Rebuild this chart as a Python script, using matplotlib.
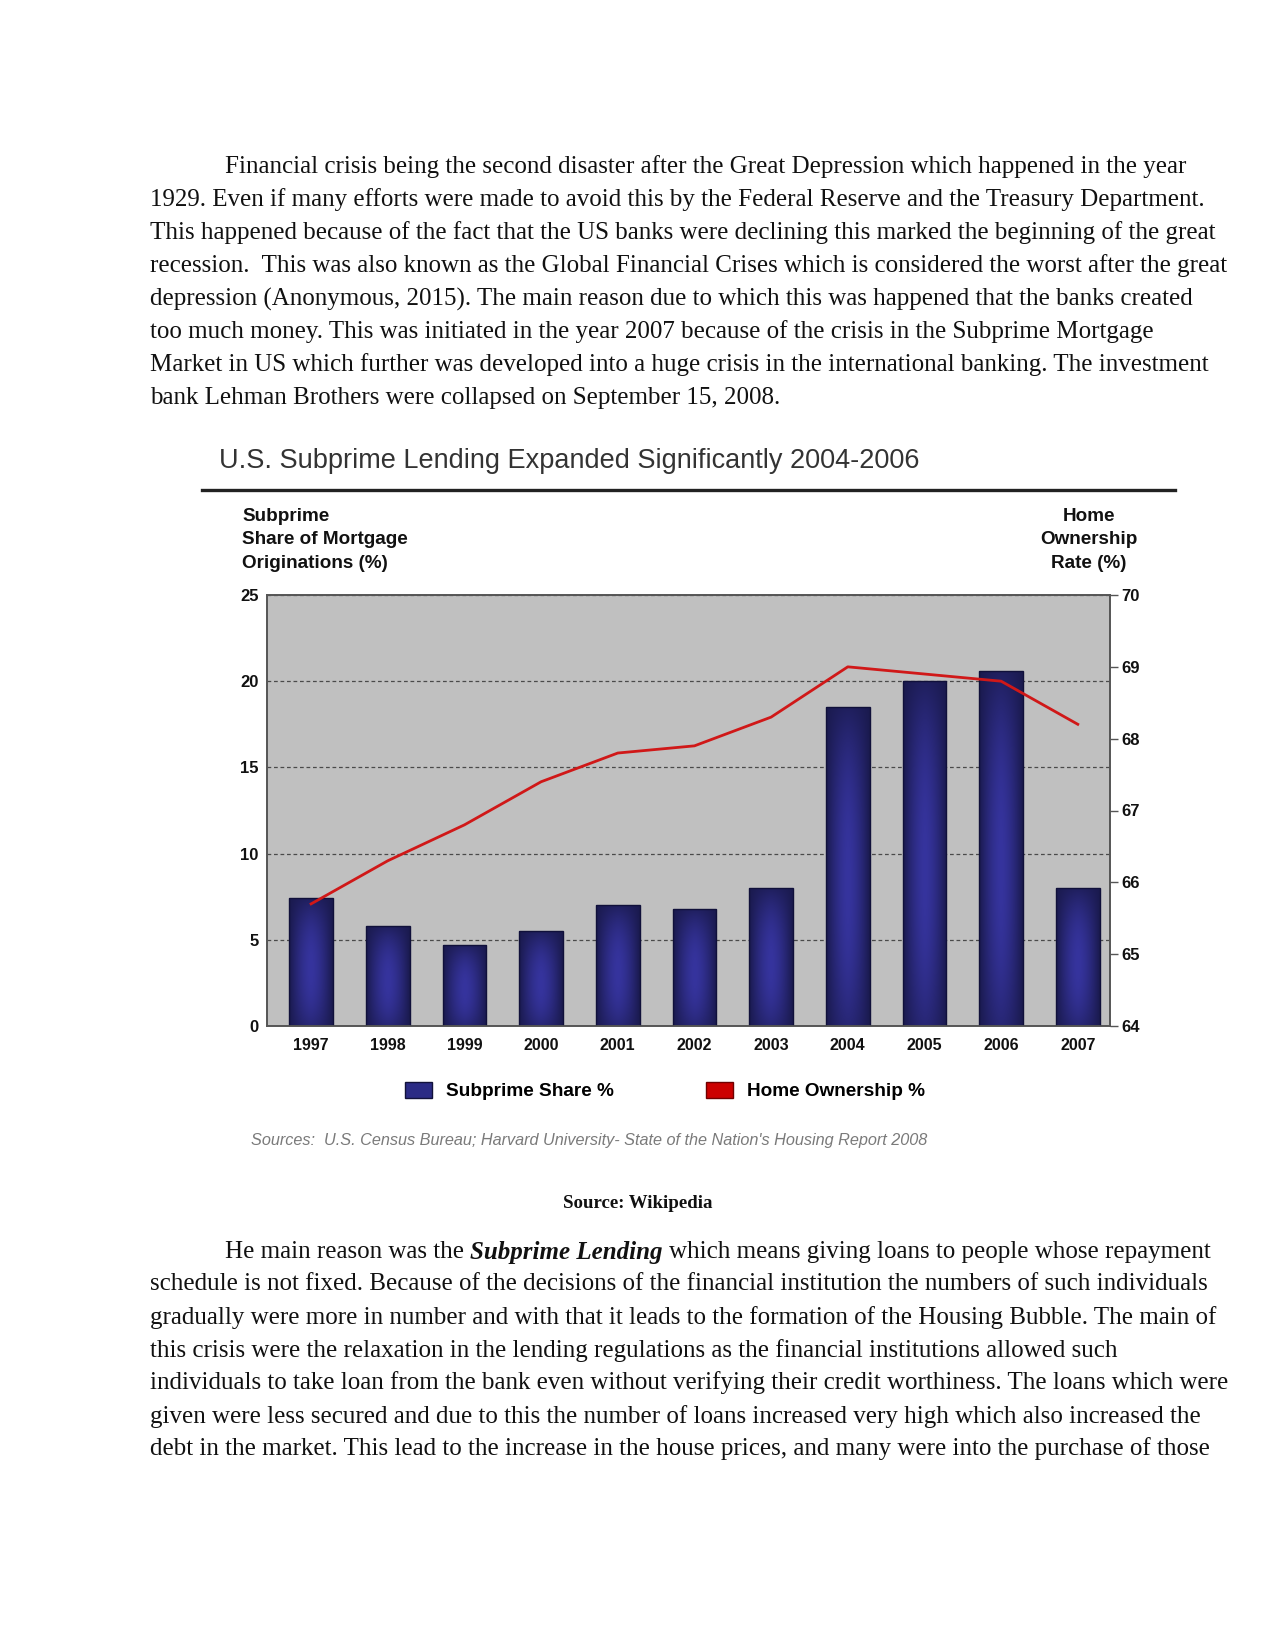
import matplotlib
matplotlib.use("Agg")
import matplotlib.pyplot as plt
import numpy as np
from matplotlib.patches import Patch
from matplotlib.lines import Line2D

# ---------------- data ----------------
years = ["1997", "1998", "1999", "2000", "2001", "2002", "2003", "2004", "2005", "2006", "2007"]
subprime_share = [7.4, 5.8, 4.7, 5.5, 7.0, 6.8, 8.0, 18.5, 20.0, 20.6, 8.0]
home_ownership = [65.7, 66.3, 66.8, 67.4, 67.8, 67.9, 68.3, 69.0, 68.9, 68.8, 68.2]
left_ticks = [0, 5, 10, 15, 20, 25]
right_ticks = [64, 65, 66, 67, 68, 69, 70]

title = "U.S. Subprime Lending Expanded Significantly 2004-2006"
left_label = "Subprime\nShare of Mortgage\nOriginations (%)"
right_label = "Home\nOwnership\nRate (%)"
legend_labels = ["Subprime Share %", "Home Ownership %"]
sources = "Sources:  U.S. Census Bureau; Harvard University- State of the Nation's Housing Report 2008"
caption = "Source: Wikipedia"

para1 = [
    "Financial crisis being the second disaster after the Great Depression which happened in the year",
    "1929. Even if many efforts were made to avoid this by the Federal Reserve and the Treasury Department.",
    "This happened because of the fact that the US banks were declining this marked the beginning of the great",
    "recession.  This was also known as the Global Financial Crises which is considered the worst after the great",
    "depression (Anonymous, 2015). The main reason due to which this was happened that the banks created",
    "too much money. This was initiated in the year 2007 because of the crisis in the Subprime Mortgage",
    "Market in US which further was developed into a huge crisis in the international banking. The investment",
    "bank Lehman Brothers were collapsed on September 15, 2008.",
]
para2_first = ["He main reason was the", "Subprime Lending", "which means giving loans to people whose repayment"]
para2 = [
    "schedule is not fixed. Because of the decisions of the financial institution the numbers of such individuals",
    "gradually were more in number and with that it leads to the formation of the Housing Bubble. The main of",
    "this crisis were the relaxation in the lending regulations as the financial institutions allowed such",
    "individuals to take loan from the bank even without verifying their credit worthiness. The loans which were",
    "given were less secured and due to this the number of loans increased very high which also increased the",
    "debt in the market. This lead to the increase in the house prices, and many were into the purchase of those",
]

W, H = 1275, 1650
fig = plt.figure(figsize=(W / 100, H / 100), dpi=100)
fig.patch.set_facecolor("white")

def fx(px):
    return px / W

def fy(py):
    return 1 - py / H

serif = "Liberation Serif"
sans = "Liberation Sans"
body_size = 18.0
txt_col = "#111111"

# ---------------- body text ----------------
p1_y = [167, 200, 233, 266, 299, 332, 365, 398]
for i, (line, y) in enumerate(zip(para1, p1_y)):
    x = 225 if i == 0 else 150
    fig.text(fx(x), fy(y), line, family=serif, size=body_size, va="center", ha="left", color=txt_col)

p2_y = [1252, 1284, 1318, 1351, 1383, 1417, 1449]
fig.canvas.draw()
renderer = fig.canvas.get_renderer()
t0 = fig.text(fx(225), fy(p2_y[0]), para2_first[0], family=serif, size=body_size, va="center", ha="left", color=txt_col)
space = body_size * 100 / 72 * 0.25
x1 = t0.get_window_extent(renderer).x1 + space
t1 = fig.text(x1 / W, fy(p2_y[0]), para2_first[1], family=serif, size=body_size, va="center", ha="left",
              weight="bold", style="italic", color=txt_col)
x2 = t1.get_window_extent(renderer).x1 + space
fig.text(x2 / W, fy(p2_y[0]), para2_first[2], family=serif, size=body_size, va="center", ha="left", color=txt_col)
for line, y in zip(para2, p2_y[1:]):
    fig.text(fx(150), fy(y), line, family=serif, size=body_size, va="center", ha="left", color=txt_col)

fig.text(fx(638), fy(1203), caption, family=serif, size=13.6, weight="bold", ha="center", va="center", color=txt_col)

# ---------------- chart ----------------
fig.text(fx(219), fy(461), title, family=sans, size=19.5, ha="left", va="center", color="#333333")
fig.add_artist(Line2D([fx(202), fx(1175)], [fy(490), fy(490)], color="#222222", lw=2.4))

fig.text(fx(242), fy(540), left_label, family=sans, size=13.6, weight="bold", ha="left", va="center",
         linespacing=1.47, color="#111111")
fig.text(fx(1089), fy(540), right_label, family=sans, size=13.6, weight="bold", ha="center", va="center",
         linespacing=1.47, color="#111111")

ax = fig.add_axes([fx(267), fy(1026), fx(1110) - fx(267), fy(595) - fy(1026)])
ax.set_facecolor("#c0c0c0")
x = np.arange(len(years))
bars = ax.bar(x, subprime_share, width=0.57, facecolor="none", edgecolor="#10103a", linewidth=1.0, zorder=3)

# gradient fill for each bar
nx, ny = 60, 200
gx = np.linspace(-1, 1, nx)
gy = np.linspace(-1, 1, ny)
fxg = 1 - np.abs(gx) ** 1.6
dark = np.array([26, 26, 78]) / 255.0
light = np.array([54, 52, 158]) / 255.0
for b in bars:
    x0, y0 = b.get_x(), b.get_y()
    w, h = b.get_width(), b.get_height()
    gyv = 1 - np.abs(gy + 0.1) ** 2.2
    inten = fxg[None, :] * (0.35 + 0.65 * gyv[:, None])
    img = dark[None, None, :] + (light - dark)[None, None, :] * inten[:, :, None]
    im = ax.imshow(img, extent=[x0, x0 + w, y0, y0 + h], origin="lower", aspect="auto", zorder=2,
                   interpolation="bilinear")
    im.set_clip_path(b)

ax.set_xlim(-0.575, 10.42)
ax.set_ylim(0, 25)
ax.set_yticks(left_ticks)
ax.set_xticks(x)
ax.set_xticklabels(years)
ax.yaxis.grid(True, linestyle=(0, (3, 2.2)), color="#4a4a4a", linewidth=0.9)
ax.set_axisbelow(True)
ax.tick_params(axis="y", length=0, pad=6, labelsize=12, colors="#111111")
ax.tick_params(axis="x", length=0, pad=9, labelsize=11.5, colors="#111111")
for lab in ax.get_xticklabels() + ax.get_yticklabels():
    lab.set_fontweight("bold")
    lab.set_family(sans)
for s in ax.spines.values():
    s.set_color("#555555")
    s.set_linewidth(1.2)

ax2 = ax.twinx()
ax2.plot(x, home_ownership, color="#d01818", linewidth=2.0, zorder=5)
ax2.set_ylim(64, 70)
ax2.set_yticks(right_ticks)
ax2.tick_params(axis="y", length=6, width=1, color="#555555", pad=2, labelsize=12, labelcolor="#111111")
for lab in ax2.get_yticklabels():
    lab.set_fontweight("bold")
    lab.set_family(sans)
for s in ax2.spines.values():
    s.set_color("#555555")
    s.set_linewidth(1.2)

handles = [Patch(facecolor="#2b2b85", edgecolor="#12123a", linewidth=1.0),
           Patch(facecolor="#cc0000", edgecolor="#700000", linewidth=1.0)]
leg = fig.legend(handles, legend_labels, loc="center", bbox_to_anchor=(fx(665), fy(1091)), ncol=2,
                 frameon=False, handlelength=1.45, handleheight=0.9, handletextpad=0.75, columnspacing=4.8,
                 prop={"family": sans, "weight": "bold", "size": 13.7})

fig.text(fx(251), fy(1141), sources, family=sans, size=11.7, style="italic", ha="left", va="center",
         color="#7a7a7a")

fig.savefig("out.png", dpi=100, facecolor="white")
